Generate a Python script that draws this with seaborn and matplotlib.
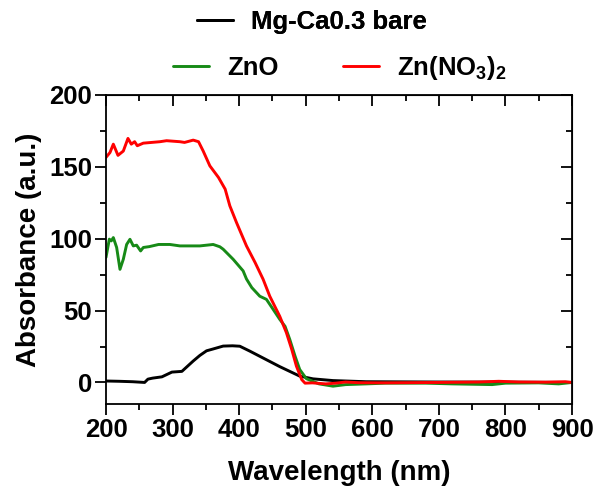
import numpy as np
import pandas as pd
import matplotlib
matplotlib.use("Agg")
import matplotlib.pyplot as plt
import seaborn as sns
from matplotlib.ticker import MultipleLocator

sns.set_style("ticks")
plt.rcParams["font.family"] = ["Liberation Sans", "DejaVu Sans"]
plt.rcParams["font.weight"] = "bold"
plt.rcParams["axes.labelweight"] = "bold"
plt.rcParams["text.color"] = "black"
plt.rcParams["axes.labelcolor"] = "black"
plt.rcParams["xtick.color"] = "black"
plt.rcParams["ytick.color"] = "black"
plt.rcParams["axes.edgecolor"] = "black"
plt.rcParams["mathtext.fontset"] = "custom"
plt.rcParams["mathtext.rm"] = "Liberation Sans:bold"
plt.rcParams["mathtext.bf"] = "Liberation Sans:bold"
plt.rcParams["mathtext.default"] = "bf"

labels = ["Mg-Ca0.3 bare", "ZnO", r"Zn(NO$_3$)$_2$"]
colors = ["#000000", "#178a17", "#ff0000"]

bare_wl = [200, 220, 240, 258, 263, 270, 284, 299, 314, 331, 341, 351, 361,
           376, 390, 401, 416, 436, 461, 491, 511, 541, 591, 700, 800, 900]
bare_abs = [1.0, 0.8, 0.5, 0.0, 2.3, 3.0, 3.9, 7.2, 7.7, 14.9, 18.8, 22.0, 23.3,
            25.3, 25.5, 25.2, 21.8, 17.0, 11.0, 4.4, 2.5, 1.3, 0.5, 0.3, 0.2, 0.0]

zno_wl = [200, 205, 208, 211, 216, 221, 226, 231, 236, 241, 246, 252, 256, 265,
          279, 296, 311, 341, 361, 371, 376, 391, 406, 411, 419, 431, 441, 451,
          461, 469, 476, 484, 491, 501, 520, 541, 560, 591, 620, 680, 720, 780,
          800, 850, 880, 900]
zno_abs = [87.0, 99.7, 98.5, 100.8, 93.9, 78.7, 85.7, 96.0, 99.6, 95.0, 95.5,
           91.5, 93.9, 94.5, 96.0, 96.0, 95.0, 95.0, 96.0, 94.4, 92.7, 85.7,
           77.6, 72.0, 66.0, 60.0, 57.8, 50.9, 43.9, 39.0, 30.0, 18.3, 9.0, 2.6,
           -1.0, -2.6, -1.5, -1.0, -0.5, -0.5, -1.0, -1.5, -0.5, -0.3, -1.0, 0.0]

zn_no3_wl = [200, 206, 211, 218, 226, 233, 238, 243, 247, 256, 281, 291, 311,
             318, 331, 339, 346, 356, 369, 379, 386, 396, 411, 424, 436, 446,
             461, 471, 479, 486, 494, 499, 510, 530, 545, 560, 580, 620, 700,
             760, 790, 820, 860, 890, 900]
zn_no3_abs = [156.6, 160.0, 165.8, 158.0, 161.0, 169.8, 165.8, 167.5, 164.7,
              166.5, 167.5, 168.2, 167.5, 167.0, 168.6, 167.5, 161.0, 150.7,
              142.6, 134.5, 122.9, 111.3, 95.0, 83.4, 71.8, 60.0, 46.0, 34.6,
              23.0, 11.4, 2.0, -0.5, -0.3, -1.0, -0.5, 0.3, -0.2, -0.3, 0.0,
              0.3, 0.8, 0.3, 0.2, 0.5, 0.0]

frames = []
for lab, wl, ab in zip(labels, [bare_wl, zno_wl, zn_no3_wl],
                       [bare_abs, zno_abs, zn_no3_abs]):
    frames.append(pd.DataFrame({"Wavelength": wl, "Absorbance": ab, "Sample": lab}))
df = pd.concat(frames, ignore_index=True)

fig = plt.figure(figsize=(5.97, 4.97), dpi=100)
ax = fig.add_axes([106 / 597, 1 - 404 / 497, 466 / 597, 309 / 497])

sns.lineplot(data=df, x="Wavelength", y="Absorbance", hue="Sample",
             hue_order=labels, palette=dict(zip(labels, colors)),
             estimator=None, sort=False, linewidth=2.1, legend=False, ax=ax)

ax.set_xlim(200, 900)
ax.set_ylim(-15, 200)
ax.xaxis.set_major_locator(MultipleLocator(100))
ax.xaxis.set_minor_locator(MultipleLocator(50))
ax.yaxis.set_major_locator(MultipleLocator(50))
ax.yaxis.set_minor_locator(MultipleLocator(25))
for s in ax.spines.values():
    s.set_linewidth(1.3)
ax.tick_params(which="major", direction="out", length=8, width=1.3,
               labelsize=18.5, pad=2)
ax.tick_params(which="minor", direction="out", length=4.5, width=1.3)

top = ax.secondary_xaxis("top")
top.xaxis.set_major_locator(MultipleLocator(100))
top.xaxis.set_minor_locator(MultipleLocator(50))
top.tick_params(which="major", direction="in", length=8, width=1.3, labeltop=False)
top.tick_params(which="minor", direction="in", length=4.5, width=1.3)
right = ax.secondary_yaxis("right")
right.yaxis.set_major_locator(MultipleLocator(50))
right.yaxis.set_minor_locator(MultipleLocator(25))
right.tick_params(which="major", direction="in", length=8, width=1.3, labelright=False)
right.tick_params(which="minor", direction="in", length=4.5, width=1.3)

ax.set_xlabel("Wavelength (nm)", fontsize=20, labelpad=13)
ax.set_ylabel("Absorbance (a.u.)", fontsize=20, labelpad=5)

lines = ax.get_lines()
leg1 = fig.legend([lines[0]], [labels[0]], loc="center",
                  bbox_to_anchor=(312 / 597, 1 - 22 / 497), frameon=False,
                  prop={"size": 18.5, "weight": "bold"}, handlelength=1.4,
                  handletextpad=0.7)
leg2 = fig.legend(lines[1:], labels[1:], loc="center", ncol=2,
                  bbox_to_anchor=(340 / 597, 1 - 68 / 497), frameon=False,
                  prop={"size": 18.5, "weight": "bold"}, handlelength=1.4,
                  handletextpad=0.7, columnspacing=2.5)
fig.add_artist(leg1)

fig.savefig("out.png", dpi=100)
